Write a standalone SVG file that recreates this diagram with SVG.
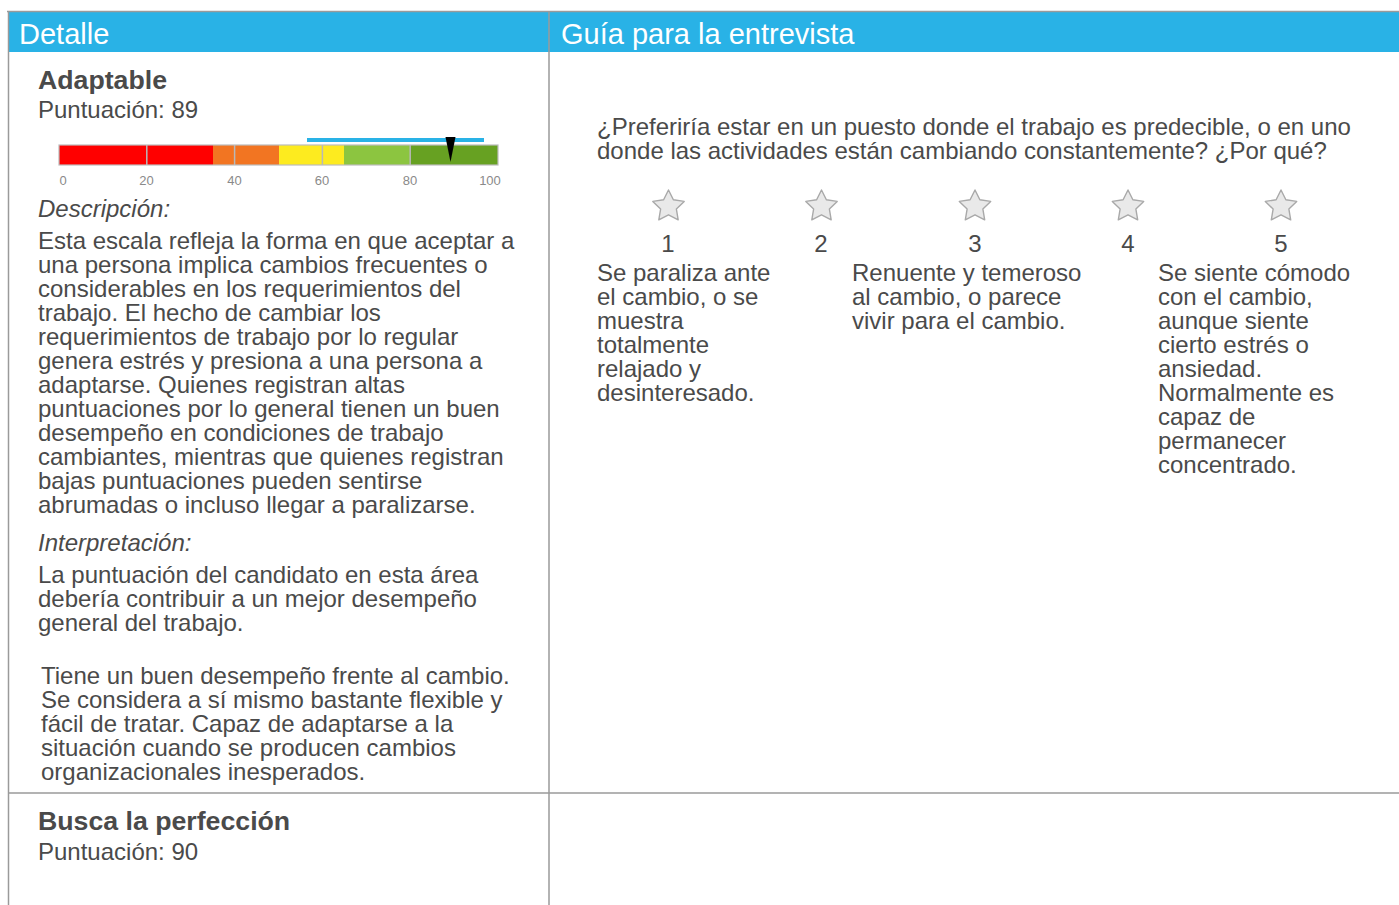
<svg xmlns="http://www.w3.org/2000/svg" width="1399" height="905" viewBox="0 0 1399 905">
<style>
text{font-family:"Liberation Sans",Arial,sans-serif;fill:#4a4a4a}
.hd{fill:#fff;font-size:29px}
.t{font-size:24px}
.b{font-size:26.7px;font-weight:bold}
.i{font-size:24px;font-style:italic}
.tk{font-size:13px;fill:#8a8a8a;text-anchor:middle}
.grid{stroke:#b8b8b8;stroke-width:1.5}
.ln{stroke:#9a9a9a;stroke-width:1.5;fill:none}
.star{fill:#e9e9e9;stroke:#a9a9a9;stroke-width:1.4;stroke-linejoin:round}
.num{font-size:24px;text-anchor:middle}
</style>
<defs>
<path id="star" d="M0,-16.5 L4.88,-6.71 L15.69,-5.1 L7.89,2.56 L9.7,13.35 L0,8.3 L-9.7,13.35 L-7.89,2.56 L-15.69,-5.1 L-4.88,-6.71 Z"/>
</defs>
<rect width="1399" height="905" fill="#fff"/>
<g id="header">
<rect x="8" y="12" width="1391" height="40" fill="#29b2e6"/>
<line x1="7" y1="11.5" x2="1399" y2="11.5" class="ln" stroke-width="2"/>
<text x="19" y="44" class="hd">Detalle</text>
<text x="561" y="44" class="hd">Guía para la entrevista</text>
</g>
<g id="grid-lines">
<line x1="8.5" y1="11" x2="8.5" y2="905" class="ln"/>
<line x1="549" y1="11" x2="549" y2="905" class="ln"/>
<line x1="8" y1="793" x2="1399" y2="793" class="ln"/>
</g>
<g id="adaptable">
<text x="38" y="89" class="b">Adaptable</text>
<text x="38" y="118" class="t">Puntuación: 89</text>
<g id="scale">
<rect x="59" y="145" width="154" height="20" fill="#ff0000"/>
<rect x="213" y="145" width="66" height="20" fill="#f27522"/>
<rect x="279" y="145" width="65" height="20" fill="#fdeb1f"/>
<rect x="344" y="145" width="66" height="20" fill="#8cc540"/>
<rect x="410" y="145" width="88" height="20" fill="#67a122"/>
<line x1="146.8" y1="145" x2="146.8" y2="165" class="grid"/>
<line x1="234.6" y1="145" x2="234.6" y2="165" class="grid"/>
<line x1="322.4" y1="145" x2="322.4" y2="165" class="grid"/>
<line x1="410.2" y1="145" x2="410.2" y2="165" class="grid"/>
<rect x="59" y="145" width="439" height="20" fill="none" stroke="#bcbcbc" stroke-width="1.2"/>
<rect x="307" y="138" width="177" height="4" fill="#29b2e6"/>
<polygon points="445.5,137 455.5,137 450.5,162" fill="#000"/>
<text x="63" y="185" class="tk">0</text>
<text x="146.5" y="185" class="tk">20</text>
<text x="234.5" y="185" class="tk">40</text>
<text x="322" y="185" class="tk">60</text>
<text x="410" y="185" class="tk">80</text>
<text x="490" y="185" class="tk">100</text>
</g>
<text x="38" y="217" class="i">Descripción:</text>
<text class="t">
<tspan x="38" y="249">Esta escala refleja la forma en que aceptar a</tspan>
<tspan x="38" y="273">una persona implica cambios frecuentes o</tspan>
<tspan x="38" y="297">considerables en los requerimientos del</tspan>
<tspan x="38" y="321">trabajo. El hecho de cambiar los</tspan>
<tspan x="38" y="345">requerimientos de trabajo por lo regular</tspan>
<tspan x="38" y="369">genera estrés y presiona a una persona a</tspan>
<tspan x="38" y="393">adaptarse. Quienes registran altas</tspan>
<tspan x="38" y="417">puntuaciones por lo general tienen un buen</tspan>
<tspan x="38" y="441">desempeño en condiciones de trabajo</tspan>
<tspan x="38" y="465">cambiantes, mientras que quienes registran</tspan>
<tspan x="38" y="489">bajas puntuaciones pueden sentirse</tspan>
<tspan x="38" y="513">abrumadas o incluso llegar a paralizarse.</tspan>
</text>
<text x="38" y="551" class="i">Interpretación:</text>
<text class="t">
<tspan x="38" y="583">La puntuación del candidato en esta área</tspan>
<tspan x="38" y="607">debería contribuir a un mejor desempeño</tspan>
<tspan x="38" y="631">general del trabajo.</tspan>
</text>
<text class="t">
<tspan x="41" y="684">Tiene un buen desempeño frente al cambio.</tspan>
<tspan x="41" y="708">Se considera a sí mismo bastante flexible y</tspan>
<tspan x="41" y="732">fácil de tratar. Capaz de adaptarse a la</tspan>
<tspan x="41" y="756">situación cuando se producen cambios</tspan>
<tspan x="41" y="780">organizacionales inesperados.</tspan>
</text>
</g>
<g id="guia">
<text class="t">
<tspan x="597" y="135">¿Preferiría estar en un puesto donde el trabajo es predecible, o en uno</tspan>
<tspan x="597" y="159">donde las actividades están cambiando constantemente? ¿Por qué?</tspan>
</text>
<g id="stars">
<use href="#star" x="668.5" y="206.5" class="star"/>
<use href="#star" x="821.5" y="206.5" class="star"/>
<use href="#star" x="975" y="206.5" class="star"/>
<use href="#star" x="1128" y="206.5" class="star"/>
<use href="#star" x="1281" y="206.5" class="star"/>
<text x="668" y="252" class="num">1</text>
<text x="821" y="252" class="num">2</text>
<text x="975" y="252" class="num">3</text>
<text x="1128" y="252" class="num">4</text>
<text x="1281" y="252" class="num">5</text>
</g>
<text class="t">
<tspan x="597" y="281">Se paraliza ante</tspan>
<tspan x="597" y="305">el cambio, o se</tspan>
<tspan x="597" y="329">muestra</tspan>
<tspan x="597" y="353">totalmente</tspan>
<tspan x="597" y="377">relajado y</tspan>
<tspan x="597" y="401">desinteresado.</tspan>
</text>
<text class="t">
<tspan x="852" y="281">Renuente y temeroso</tspan>
<tspan x="852" y="305">al cambio, o parece</tspan>
<tspan x="852" y="329">vivir para el cambio.</tspan>
</text>
<text class="t">
<tspan x="1158" y="281">Se siente cómodo</tspan>
<tspan x="1158" y="305">con el cambio,</tspan>
<tspan x="1158" y="329">aunque siente</tspan>
<tspan x="1158" y="353">cierto estrés o</tspan>
<tspan x="1158" y="377">ansiedad.</tspan>
<tspan x="1158" y="401">Normalmente es</tspan>
<tspan x="1158" y="425">capaz de</tspan>
<tspan x="1158" y="449">permanecer</tspan>
<tspan x="1158" y="473">concentrado.</tspan>
</text>
</g>
<g id="perfeccion">
<text x="38" y="830" class="b">Busca la perfección</text>
<text x="38" y="860" class="t">Puntuación: 90</text>
</g>
</svg>
